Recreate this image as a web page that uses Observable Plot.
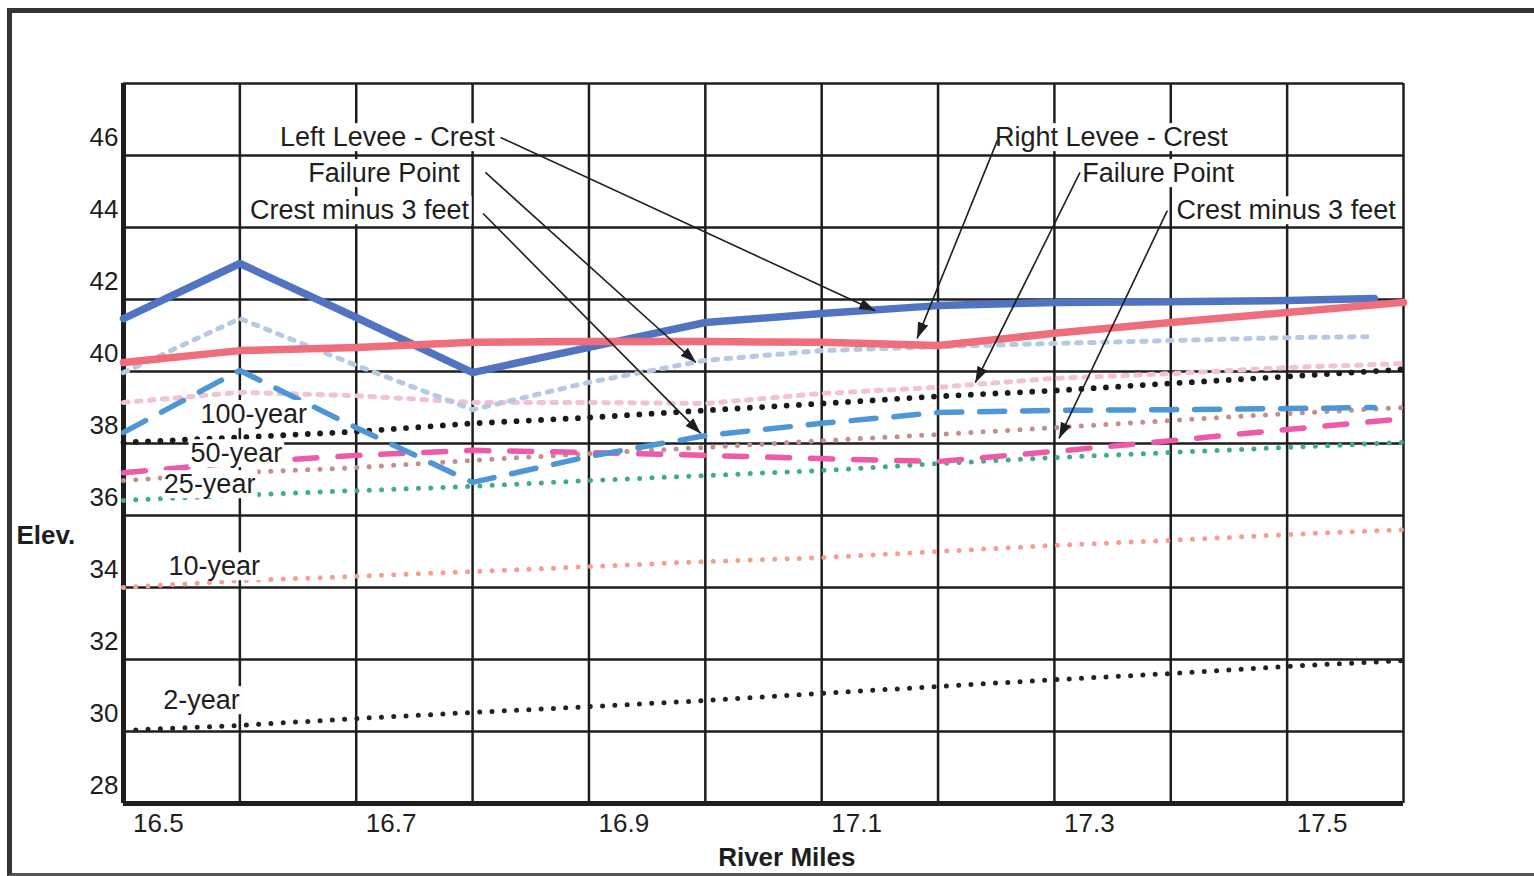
<!DOCTYPE html>
<html><head><meta charset="utf-8">
<script src="https://cdn.jsdelivr.net/npm/d3@7"></script>
<script src="https://cdn.jsdelivr.net/npm/@observablehq/plot@0.6"></script>
<style>
html,body{margin:0;padding:0;background:#fff;}
#wrap{position:relative;width:1534px;height:876px;overflow:hidden;background:#fff;}
#wrap svg{position:absolute;left:0;top:0;}
#frame{position:absolute;left:7px;top:8px;width:1560px;height:860px;border-left:5px solid #333;border-top:5px solid #333;border-bottom:3px solid #555;pointer-events:none;}
</style></head>
<body><div id="wrap"></div>
<script>
// ---- data ----
const miles      = [16.47,16.57,16.67,16.77,16.87,16.97,17.07,17.17,17.27,17.37,17.47,17.57];
const milesLeft  = [16.47,16.57,16.67,16.77,16.87,16.97,17.07,17.17,17.27,17.37,17.47,17.545];
const leftCrest    = [40.97,42.50,41.00,39.47,40.17,40.86,41.11,41.33,41.42,41.44,41.47,41.53];
const leftFailure  = [39.47,40.97,39.67,38.44,39.20,39.81,40.08,40.19,40.28,40.36,40.44,40.47];
const leftMinus3   = [37.81,39.53,37.94,36.42,37.14,37.72,38.06,38.36,38.42,38.44,38.47,38.50];
const rightCrest   = [39.75,40.08,40.17,40.31,40.33,40.33,40.31,40.22,40.56,40.86,41.14,41.42];
const rightFailure = [38.64,38.92,38.83,38.64,38.64,38.61,38.89,39.06,39.31,39.44,39.61,39.72];
const rightMinus3  = [36.69,36.97,37.17,37.31,37.25,37.17,37.08,37.00,37.28,37.58,37.89,38.19];
const year100 = [37.53,37.67,37.83,38.06,38.22,38.42,38.61,38.81,38.97,39.17,39.36,39.56];
const year50  = [36.47,36.69,36.83,37.03,37.22,37.39,37.58,37.75,37.94,38.14,38.33,38.50];
const year25  = [35.92,36.06,36.19,36.31,36.47,36.61,36.75,36.94,37.11,37.25,37.39,37.53];
const year10  = [33.50,33.69,33.81,33.94,34.08,34.22,34.33,34.50,34.67,34.81,34.97,35.11];
const year2   = [29.53,29.67,29.86,30.03,30.19,30.36,30.56,30.75,30.94,31.11,31.31,31.47];

const xTicks = [16.5,16.7,16.9,17.1,17.3,17.5];
const yTicks = [28,30,32,34,36,38,40,42,44,46];
const gridMiles = miles.slice();
const gridElev = [27.5,29.5,31.5,33.5,35.5,37.5,39.5,41.5,43.5,45.5,47.5];

const freqNames = ["100-year","50-year","25-year","10-year","2-year"];
const freqLabelX = [16.582,16.567,16.544,16.548,16.537];
const freqLabelY = [38.31,37.22,36.36,34.08,30.36];

const leftNames  = ["Left Levee - Crest","Failure Point","Crest minus 3 feet"];
const leftNameX  = [16.789,16.759,16.767];
const rightNames = ["Right Levee - Crest","Failure Point","Crest minus 3 feet"];
const rightNameX = [17.219,17.294,17.375];
const nameY      = [46.0,45.0,43.97];

const arrowX1 = [16.794,16.781,16.779,17.221,17.292,17.367];
const arrowY1 = [46.0,45.03,43.89,45.92,45.03,43.97];
const arrowX2 = [17.116,16.962,16.966,17.152,17.202,17.274];
const arrowY2 = [41.19,39.75,37.78,40.42,39.19,37.64];

// ---- build ----
const pts = (ys, xs = miles) => ys.map((y, i) => ({x: xs[i], y}));
const tab = (names, xs, ys) => names.map((t, i) => ({t, x: xs[i], y: ys[i]}));
const arrows = arrowX1.map((_, i) => ({x1: arrowX1[i], y1: arrowY1[i], x2: arrowX2[i], y2: arrowY2[i]}));

const headMarker = (color) => {
  const m = d3.create("svg:marker")
    .attr("viewBox", "-16 -6 17 12").attr("markerWidth", 17).attr("markerHeight", 12)
    .attr("markerUnits", "userSpaceOnUse").attr("orient", "auto").attr("refX", 0).attr("refY", 0);
  m.append("path").attr("d", "M-16,-5.5L0,0L-16,5.5Z").attr("fill", color).attr("stroke", "none");
  return m.node();
};

const ink = "#1e1e1e";
const font = "'Liberation Sans', Arial, sans-serif";
const lineOpts = (extra) => Object.assign({x: "x", y: "y", strokeLinejoin: "round"}, extra);

let arrowMark;
try {
  arrowMark = Plot.link(arrows, {x1: "x1", y1: "y1", x2: "x2", y2: "y2", stroke: ink, strokeWidth: 1.6, markerEnd: headMarker});
} catch (e) {
  arrowMark = Plot.link(arrows, {x1: "x1", y1: "y1", x2: "x2", y2: "y2", stroke: ink, strokeWidth: 1.6, markerEnd: "arrow"});
}

const chart = Plot.plot({
  width: 1534, height: 876,
  marginLeft: 123, marginRight: 131, marginTop: 83, marginBottom: 73,
  x: {domain: [16.47, 17.57]},
  y: {domain: [27.5, 47.5]},
  style: {fontFamily: font, fontSize: "26px", color: ink, background: "transparent", overflow: "visible"},
  marks: [
    Plot.ruleX(gridMiles, {stroke: ink, strokeWidth: 2.5}),
    Plot.ruleY(gridElev, {stroke: ink, strokeWidth: 2.5}),
    Plot.ruleX([gridMiles[0]], {stroke: ink, strokeWidth: 5}),
    Plot.ruleY([gridElev[0]], {stroke: ink, strokeWidth: 5}),
    Plot.axisX(xTicks, {tickSize: 0, tickPadding: 10, fontSize: 26, label: null, fill: ink, tickFormat: d3.format(".1f")}),
    Plot.axisY(yTicks, {tickSize: 0, tickPadding: 5, fontSize: 26, label: null, fill: ink, tickFormat: d3.format("d")}),

    Plot.line(pts(year2),   lineOpts({stroke: "#222", strokeWidth: 5, strokeDasharray: "0,12.3", strokeLinecap: "round"})),
    Plot.line(pts(year10),  lineOpts({stroke: "#f4a08e", strokeWidth: 5, strokeDasharray: "0,12.3", strokeLinecap: "round"})),
    Plot.line(pts(year25),  lineOpts({stroke: "#3fad8c", strokeWidth: 5, strokeDasharray: "0,12.3", strokeLinecap: "round"})),
    Plot.line(pts(year50),  lineOpts({stroke: "#c48e8c", strokeWidth: 5, strokeDasharray: "0,12.3", strokeLinecap: "round"})),
    Plot.line(pts(year100), lineOpts({stroke: "#1a1a1a", strokeWidth: 5.8, strokeDasharray: "0,12.3", strokeLinecap: "round"})),
    Plot.line(pts(rightFailure), lineOpts({stroke: "#f3bfd9", strokeWidth: 5, strokeDasharray: "4.5,8.5"})),
    Plot.line(pts(rightMinus3),  lineOpts({stroke: "#ec5aa9", strokeWidth: 5.5, strokeDasharray: "22,21"})),
    Plot.line(pts(leftFailure, milesLeft), lineOpts({stroke: "#b6c9e2", strokeWidth: 5, strokeDasharray: "4.5,8.5"})),
    Plot.line(pts(leftMinus3, milesLeft),  lineOpts({stroke: "#4f96d6", strokeWidth: 5.5, strokeDasharray: "25,18"})),
    Plot.line(pts(leftCrest, milesLeft),   lineOpts({stroke: "#5074c2", strokeWidth: 7.5})),
    Plot.line(pts(rightCrest),             lineOpts({stroke: "#f06e7b", strokeWidth: 7.5})),

    Plot.text(tab(freqNames, freqLabelX, freqLabelY), {x: "x", y: "y", text: "t", fontSize: 27, fill: ink}),
    Plot.text(tab(leftNames, leftNameX, nameY), {x: "x", y: "y", text: "t", fontSize: 27, textAnchor: "end", fill: ink}),
    Plot.text(tab(rightNames, rightNameX, nameY), {x: "x", y: "y", text: "t", fontSize: 27, textAnchor: "start", fill: ink}),
    arrowMark,

    Plot.text([{t: "Elev.", y: 34.94}], {y: "y", text: "t", frameAnchor: "left", textAnchor: "start", dx: -107, fontWeight: "bold", fontSize: 26, fill: ink}),
    Plot.text([{t: "River Miles", x: 17.04}], {x: "x", text: "t", frameAnchor: "bottom", lineAnchor: "middle", dy: 54, fontWeight: "bold", fontSize: 26, fill: ink})
  ]
});

const wrap = document.getElementById("wrap");
wrap.append(chart);
const frame = document.createElement("div");
frame.id = "frame";
wrap.append(frame);

// white boxes behind the in-chart labels (as in the original text boxes)
d3.select(chart).selectAll('g[aria-label="text"] text').each(function () {
  const b = this.getBBox();
  const r = d3.select(this.parentNode).insert("rect", () => this)
    .attr("x", b.x - 2).attr("y", b.y + 1).attr("width", b.width + 4).attr("height", b.height - 2)
    .attr("fill", "white");
  const tr = this.getAttribute("transform");
  if (tr) r.attr("transform", tr);
});
</script>
</body></html>
